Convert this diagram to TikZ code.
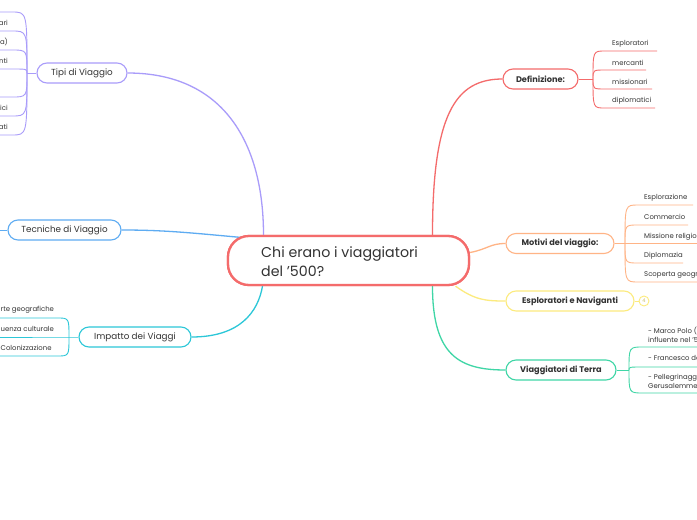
\documentclass[tikz,border=0pt]{standalone}
\usepackage{fontspec}
\setmainfont{Poppins}
\usetikzlibrary{calc}
\definecolor{cred}{HTML}{F46B6B}
\definecolor{cpur}{HTML}{A99CFA}
\definecolor{cblu}{HTML}{5EACF2}
\definecolor{ccya}{HTML}{2CC7D8}
\definecolor{cora}{HTML}{FFB486}
\definecolor{cyel}{HTML}{FCEB7E}
\definecolor{cgre}{HTML}{3FD6A6}
\definecolor{ctxt}{HTML}{333333}
\begin{document}
\begin{tikzpicture}[x=1pt,y=-1pt,
  branch/.style={draw, rounded corners=10pt, minimum height=20pt, inner sep=0pt, fill=white, line width=1.1pt, text=ctxt},
  lbranch/.style={branch, font=\fontsize{8.8}{10}\selectfont},
  rbranch/.style={branch, font=\fontsize{8.2}{10}\selectfont\bfseries},
  link/.style={line width=1.3pt},
  twig/.style={line width=0.9pt},
  kid/.style={font=\fontsize{6.9}{8.7}\selectfont, inner sep=0pt, text=ctxt, align=left},
  centre/.style={draw=cred, line width=2.3pt, rounded corners=21pt, minimum width=241pt, minimum height=49pt, fill=white},
  ctxtstyle/.style={anchor=west, align=left, inner sep=0pt, font=\fontsize{14.2}{19}\selectfont, text=ctxt}
]
\useasboundingbox (0,0) rectangle (697,520);
\clip (0,0) rectangle (697,520);
\fill[white] (0,0) rectangle (697,520);

% central
\node[centre] (central) at (348.5,260.5) {};

% main branches
\node[lbranch, draw=cpur, minimum width=90pt] (tipi) at (82,73) {Tipi di Viaggio};
\node[lbranch, draw=cblu, minimum width=113pt] (tecn) at (64.5,230) {Tecniche di Viaggio};
\node[lbranch, draw=ccya, minimum width=112pt] (impa) at (135,337) {Impatto dei Viaggi};
\node[rbranch, draw=cred, minimum width=75pt] (defi) at (540.5,79) {Definizione:};
\node[rbranch, draw=cora, minimum width=108pt] (moti) at (560,243.5) {Motivi del viaggio:};
\node[rbranch, draw=cyel, minimum width=128pt] (esplo) at (570,301) {Esploratori e Naviganti};
\node[rbranch, draw=cgre, minimum width=110pt] (viag) at (561,370) {Viaggiatori di Terra};

% links to central
\draw[link, cpur] (tipi.east) .. controls (225,73) and ([xshift=-85pt,yshift=90pt]central.north) .. ([xshift=-85pt]central.north);
\draw[link, cblu] (tecn.east) .. controls (185,230) and (210,236) .. ([xshift=-117pt,yshift=-12pt]central.north east);
\draw[link, ccya] (impa.east) .. controls (240,337) and (258,312) .. ([xshift=-86pt]central.south);
\draw[link, cred] ([xshift=84pt]central.north) .. controls ([xshift=84pt,yshift=120pt]central.north) and (455,79) .. (defi.west);
\draw[link, cora] ([yshift=8pt]central.east) .. controls (488,249) and (490,243.5) .. (moti.west);
\draw[link, cyel] ([xshift=107pt]central.south) .. controls (475,300) and (485,301) .. (esplo.west);
\draw[link, cgre] ([xshift=84pt]central.south) .. controls ([xshift=84pt,yshift=-70pt]central.south) and (460,370) .. (viag.west);

% central drawn on top
\node[centre] (centraltop) at (central) {};
\node[ctxtstyle] (ctext) at (261,261.5) {Chi erano i viaggiatori\\del ’500?};

% Tipi children
\coordinate (ttr) at (27,73);
\draw[twig, cpur] (tipi.west) -- (ttr);
\foreach \y in {12,31,50,69,97,116,135}{
  \draw[twig, cpur] (ttr) .. controls (27,\y) .. (12,\y) -- (-5,\y);
}
\foreach \t/\y in {ari/23, a)/42, nti/61, ici/108, ati/127}{
  \node[kid, anchor=east] at (8,\y) {\t};
}

% Tecniche child stub
\coordinate (tcs) at (-5,230);
\draw[twig, cblu] (tecn.west) -- (tcs);

% Impatto children
\coordinate (itr) at (69,337);
\draw[twig, ccya] (impa.west) -- (itr) -- (-5,337);
\draw[twig, ccya] (itr) .. controls (69,318) .. (57,318) -- (-5,318);
\draw[twig, ccya] (itr) .. controls (69,356) .. (57,356) -- (-5,356);
\node[kid, anchor=west] (i1) at (0.5,310) {rte geografiche};
\node[kid, anchor=west] (i2) at (0.5,329) {uenza culturale};
\node[kid, anchor=west] (i3) at (0.5,348) {Colonizzazione};

% Definizione children
\coordinate (dtr) at (593,79);
\draw[twig, cred] (defi.east) -- (dtr);
\foreach \y/\e in {51/657, 70/646, 89/652, 108/655}{
  \draw[twig, cred] (dtr) .. controls (593,\y) .. (605,\y) -- (\e,\y);
}
\foreach \t/\y in {Esploratori/44, mercanti/63, missionari/82, diplomatici/101}{
  \node[kid, anchor=west] at (612,\y) {\t};
}

% Motivi children
\coordinate (mtr) at (625,243.5);
\draw[twig, cora] (moti.east) -- (mtr);
\foreach \y/\e in {205/693, 225/688, 243.5/705, 263/683, 282/705}{
  \draw[twig, cora] (mtr) .. controls (625,\y) .. (638,\y) -- (\e,\y);
}
\foreach \t/\y in {Esplorazione/198, Commercio/217, Missione religiosa/237, Diplomazia/256, Scoperta geografica/275}{
  \node[kid, anchor=west] at (644,\y) {\t};
}

% Esploratori collapsed
\node[draw=cyel, line width=0.9pt, circle, minimum size=10pt, inner sep=0pt, font=\fontsize{5}{5}\selectfont, text=cyel!80!black] (cnt) at (644,301) {4};
\draw[twig, cyel] (esplo.east) -- (cnt.west);

% Viaggiatori children
\coordinate (vtr) at (629,370);
\draw[twig, cgre] (viag.east) -- (vtr);
\foreach \y in {347,367,393}{
  \draw[twig, cgre] (vtr) .. controls (629,\y) .. (643,\y) -- (705,\y);
}
\node[kid, anchor=west] (v1) at (648,335) {- Marco Polo (\\influente nel ’500};
\node[kid, anchor=west] (v2) at (648,358) {- Francesco de};
\node[kid, anchor=west] (v3) at (648,382) {- Pellegrinaggi\\Gerusalemme,};
\end{tikzpicture}
\end{document}
